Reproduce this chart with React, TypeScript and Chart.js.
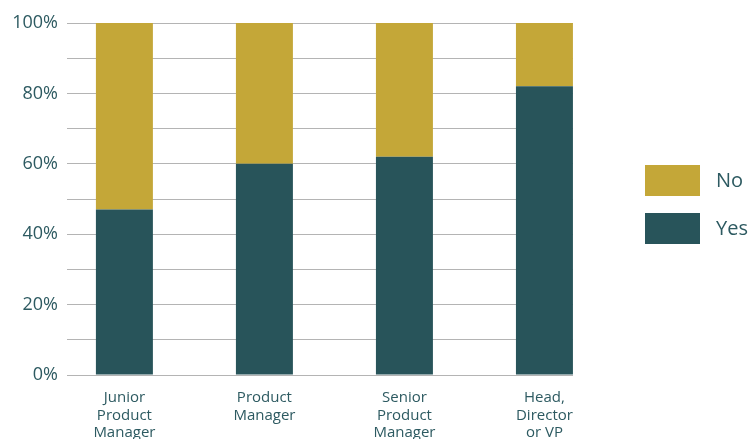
import React, { useEffect, useRef } from "react";
import { Chart, registerables } from "chart.js";

Chart.register(...registerables);

const categories: string[][] = [
  ["Junior", "Product", "Manager"],
  ["Product", "Manager"],
  ["Senior", "Product", "Manager"],
  ["Head,", "Director", "or VP"],
];
const yesValues = [47, 60, 62, 82];
const noValues = [53, 40, 38, 18];
const yTicks = [0, 20, 40, 60, 80, 100];

const TEXT = "#2d5a61";
const FONT = "'Open Sans', sans-serif";

const sideLegend = {
  id: "sideLegend",
  afterDraw(chart: any) {
    const ctx = chart.ctx;
    const ds = chart.data.datasets.slice().reverse();
    const boxX = 645;
    const boxW = 55;
    const boxH = 31;
    const startY = 165;
    const gap = 48;
    ctx.save();
    ds.forEach((d: any, i: number) => {
      const y = startY + i * gap;
      ctx.fillStyle = d.backgroundColor;
      ctx.fillRect(boxX, y, boxW, boxH);
      ctx.fillStyle = TEXT;
      ctx.font = `20px ${FONT}`;
      ctx.textBaseline = "middle";
      ctx.textAlign = "left";
      ctx.fillText(d.label, boxX + boxW + 16, y + boxH / 2 + 1);
    });
    ctx.restore();
  },
};

export default function App() {
  const ref = useRef<HTMLCanvasElement | null>(null);
  useEffect(() => {
    if (!ref.current) return;
    const chart = new Chart(ref.current, {
      type: "bar",
      data: {
        datasets: [
          {
            label: "Yes",
            data: yesValues.map((v, i) => ({ x: i, y: v })),
            backgroundColor: "#28545a",
            barPercentage: 0.407,
            categoryPercentage: 1,
          },
          {
            label: "No",
            data: noValues.map((v, i) => ({ x: i, y: v })),
            backgroundColor: "#c4a738",
            barPercentage: 0.407,
            categoryPercentage: 1,
          },
        ],
      },
      options: {
        animation: false,
        responsive: false,
        maintainAspectRatio: false,
        layout: { padding: { top: 23, right: 176, left: 0, bottom: 0 } },
        plugins: { legend: { display: false }, tooltip: { enabled: false } },
        scales: {
          x: {
            type: "linear",
            stacked: true,
            offset: false,
            min: -0.41,
            max: 3.204,
            afterBuildTicks: (axis: any) => {
              axis.ticks = categories.map((_, i) => ({ value: i }));
            },
            afterFit: (s: any) => {
              s.height = 64;
            },
            grid: { display: false, offset: false },
            border: { display: false },
            ticks: {
              autoSkip: false,
              maxRotation: 0,
              padding: 6,
              color: TEXT,
              font: { family: FONT, size: 15, lineHeight: 1.17 },
              callback: (v: any) => categories[Math.round(Number(v))] ?? "",
            },
          },
          y: {
            stacked: true,
            min: 0,
            max: 100,
            afterBuildTicks: (axis: any) => {
              const t: any[] = [];
              for (let v = 0; v <= 100; v += 10) t.push({ value: v });
              axis.ticks = t;
            },
            afterFit: (s: any) => {
              s.width = 67;
            },
            grid: { color: "#b4b4b4", lineWidth: 1, drawTicks: false },
            border: { display: false },
            ticks: {
              padding: 9,
              color: TEXT,
              font: { family: FONT, size: 18 },
              callback: (v: any) => (yTicks.includes(Number(v)) ? `${v}%` : ""),
            },
          },
        },
      },
      plugins: [sideLegend],
    });
    return () => chart.destroy();
  }, []);
  return (
    <div style={{ position: "fixed", left: 0, top: 0, width: 749, height: 439, background: "#fff" }}>
      <canvas ref={ref} width={749} height={439} style={{ display: "block" }} />
    </div>
  );
}
